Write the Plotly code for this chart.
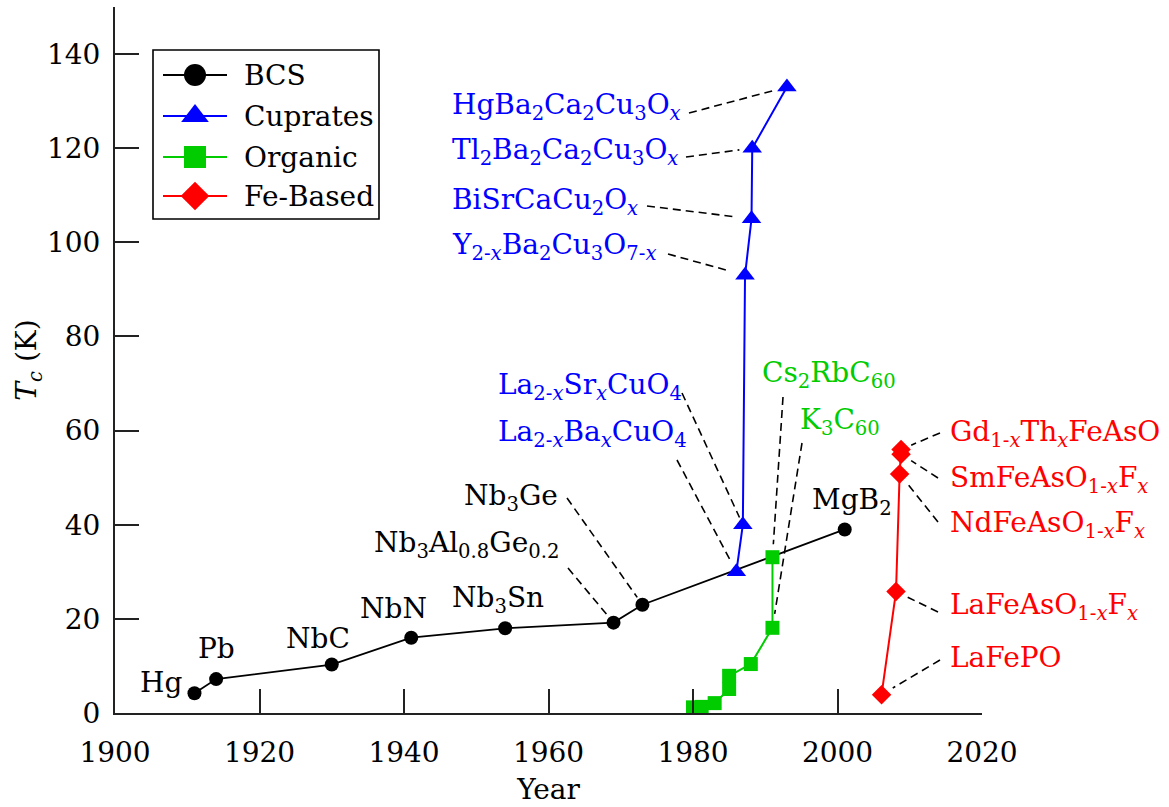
import plotly.graph_objects as go
import math

# ---------------- data ----------------
series_names = ["BCS", "Cuprates", "Organic", "Fe-Based"]

bcs_year = [1911, 1914, 1930, 1941, 1954, 1969, 1973, 2001]
bcs_tc = [4.2, 7.2, 10.3, 16.0, 18.0, 19.2, 23.0, 39.0]
bcs_names = ["Hg", "Pb", "NbC", "NbN", "Nb<sub>3</sub>Sn",
             "Nb<sub>3</sub>Al<sub>0.8</sub>Ge<sub>0.2</sub>",
             "Nb<sub>3</sub>Ge", "MgB<sub>2</sub>"]

cup_year = [1986, 1986.9, 1987.2, 1988.1, 1988.2, 1993]
cup_tc = [30, 40, 93, 105, 120, 133]
cup_names = ["La<sub>2-<i>x</i></sub>Ba<sub><i>x</i></sub>CuO<sub>4</sub>",
             "La<sub>2-<i>x</i></sub>Sr<sub><i>x</i></sub>CuO<sub>4</sub>",
             "Y<sub>2-<i>x</i></sub>Ba<sub>2</sub>Cu<sub>3</sub>O<sub>7-<i>x</i></sub>",
             "BiSrCaCu<sub>2</sub>O<sub><i>x</i></sub>",
             "Tl<sub>2</sub>Ba<sub>2</sub>Ca<sub>2</sub>Cu<sub>3</sub>O<sub><i>x</i></sub>",
             "HgBa<sub>2</sub>Ca<sub>2</sub>Cu<sub>3</sub>O<sub><i>x</i></sub>"]

org_year = [1980, 1981.2, 1983, 1985, 1985, 1988, 1991, 1991]
org_tc = [1.2, 1.3, 2.1, 5.1, 7.9, 10.4, 18.1, 33.1]
org_names = [None, None, None, None, None, None,
             "K<sub>3</sub>C<sub>60</sub>", "Cs<sub>2</sub>RbC<sub>60</sub>"]

fe_year = [2006.1, 2008.1, 2008.6, 2008.8, 2008.8]
fe_tc = [3.9, 25.8, 50.8, 55.0, 56.0]
fe_names = ["LaFePO",
            "LaFeAsO<sub>1-<i>x</i></sub>F<sub><i>x</i></sub>",
            "NdFeAsO<sub>1-<i>x</i></sub>F<sub><i>x</i></sub>",
            "SmFeAsO<sub>1-<i>x</i></sub>F<sub><i>x</i></sub>",
            "Gd<sub>1-<i>x</i></sub>Th<sub><i>x</i></sub>FeAsO"]

x_ticks = [1900, 1920, 1940, 1960, 1980, 2000, 2020]
y_ticks = [0, 20, 40, 60, 80, 100, 120, 140]

# ---------------- styling / layout ----------------
W, H = 1169, 807
PL, PR, PT, PB = 115, 982, 7, 713   # plot area in figure pixels
XR = (1900, 2020)
YR = (0, 150)
FONT = "DejaVu Serif"
FS = 28

colors = ["#000000", "#0000FF", "#00CC00", "#FF0000"]
symbols = ["circle", "triangle-up", "square", "diamond"]
msizes = [14, 17, 14, 15]
lwidths = [1.8, 2, 2, 2]
leg_msizes = [22, 24, 22, 22]

series = [(bcs_year, bcs_tc, bcs_names),
          (cup_year, cup_tc, cup_names),
          (org_year, org_tc, org_names),
          (fe_year, fe_tc, fe_names)]


def px2x(px):
    return XR[0] + (px - PL) * (XR[1] - XR[0]) / (PR - PL)


def px2y(py):
    return YR[0] + (PB - py) * (YR[1] - YR[0]) / (PB - PT)


def x2px(x):
    return PL + (x - XR[0]) * (PR - PL) / (XR[1] - XR[0])


def y2px(y):
    return PB - (y - YR[0]) * (PB - PT) / (YR[1] - YR[0])


# label placement: (series, index, text_px_x, text_px_y, xanchor, leader_start_px, gap_px)
label_pos = [
    (0, 0, 184, 682, "right", None, 0),
    (0, 1, 216, 648, "center", None, 0),
    (0, 2, 318, 638, "center", None, 0),
    (0, 3, 393, 608, "center", None, 0),
    (0, 4, 498, 599, "center", None, 0),
    (0, 5, 561, 544, "right", (568, 568), 10),
    (0, 6, 560, 497, "right", (567, 498), 9),
    (0, 7, 852, 501, "center", None, 0),
    (1, 0, 496, 433, "left", (677, 460), 11),
    (1, 1, 496, 386, "left", (682, 393), 8),
    (1, 2, 450, 246, "left", (668, 254), 19),
    (1, 3, 450, 201, "left", (647, 206), 15),
    (1, 4, 450, 151, "left", (686, 157), 13),
    (1, 5, 450, 106, "left", (689, 113), 12),
    (2, 6, 798, 421, "left", (802, 443), 14),
    (2, 7, 760, 374, "left", (783, 397), 13),
    (3, 0, 948, 657, "left", (940, 660), 13),
    (3, 1, 948, 606, "left", (938, 612), 13),
    (3, 2, 948, 524, "left", (938, 522), 12),
    (3, 3, 948, 479, "left", (938, 478), 12),
    (3, 4, 948, 433, "left", (940, 433), 11),
]

fig = go.Figure()

for k, (xs, ys, _) in enumerate(series):
    fig.add_trace(go.Scatter(
        x=xs, y=ys, mode="lines+markers", name=series_names[k],
        line=dict(color=colors[k], width=lwidths[k]),
        marker=dict(symbol=symbols[k], size=msizes[k], color=colors[k],
                    line=dict(width=0)),
        cliponaxis=False, showlegend=False, hoverinfo="skip"))

annotations = []
shapes = []
for (s, i, tx, ty, xa, lead, gap) in label_pos:
    xs, ys, names = series[s]
    annotations.append(dict(
        x=px2x(tx), y=px2y(ty), xref="x", yref="y", text=names[i],
        showarrow=False, xanchor=xa, yanchor="middle",
        font=dict(family=FONT, size=FS, color=colors[s])))
    if lead is not None:
        ppx, ppy = x2px(xs[i]), y2px(ys[i])
        dx, dy = lead[0] - ppx, lead[1] - ppy
        d = math.hypot(dx, dy)
        ex, ey = ppx + dx / d * gap, ppy + dy / d * gap
        shapes.append(dict(
            type="line", xref="x", yref="y",
            x0=px2x(lead[0]), y0=px2y(lead[1]), x1=px2x(ex), y1=px2y(ey),
            line=dict(color="black", width=1.6, dash="8px,5px")))

# ---------------- manual legend (overlay axes in figure pixels) ----------------
LEG_BOX = (153, 50, 379, 219)
LEG_ROWS = [75, 116, 157, 196]
shapes.append(dict(type="rect", xref="x2", yref="y2",
                   x0=LEG_BOX[0], x1=LEG_BOX[2], y0=LEG_BOX[1], y1=LEG_BOX[3],
                   line=dict(color="black", width=1.6), fillcolor="rgba(0,0,0,0)",
                   layer="below"))
for k, ry in enumerate(LEG_ROWS):
    fig.add_trace(go.Scatter(
        x=[163, 227], y=[ry, ry], xaxis="x2", yaxis="y2", mode="lines",
        line=dict(color=colors[k], width=lwidths[k]),
        showlegend=False, hoverinfo="skip", cliponaxis=False))
    fig.add_trace(go.Scatter(
        x=[195], y=[ry], xaxis="x2", yaxis="y2", mode="markers",
        marker=dict(symbol=symbols[k], size=leg_msizes[k], color=colors[k],
                    line=dict(width=0)),
        showlegend=False, hoverinfo="skip", cliponaxis=False))
    annotations.append(dict(
        x=242, y=ry, xref="x2", yref="y2", text=series_names[k],
        showarrow=False, xanchor="left", yanchor="middle",
        font=dict(family=FONT, size=FS, color="black")))

fig.update_layout(
    width=W, height=H,
    margin=dict(l=PL, r=W - PR, t=PT, b=H - PB, pad=0),
    paper_bgcolor="white", plot_bgcolor="white",
    font=dict(family=FONT, size=FS, color="black"),
    xaxis=dict(range=list(XR), tickvals=x_ticks, showgrid=False, zeroline=False,
               showline=True, linecolor="#222222", linewidth=2,
               ticks="inside", ticklen=24, tickwidth=1.5, tickcolor="#222222",
               ticklabelstandoff=13,
               title=dict(text="Year", font=dict(family=FONT, size=FS), standoff=12),
               tickfont=dict(family=FONT, size=FS, color="black")),
    yaxis=dict(range=list(YR), tickvals=y_ticks, showgrid=False, zeroline=False,
               showline=True, linecolor="#222222", linewidth=2,
               ticks="inside", ticklen=24, tickwidth=1.5, tickcolor="#222222",
               ticklabelstandoff=7,
               title=dict(text="<i>T<sub>c</sub></i> (K)", font=dict(family=FONT, size=FS), standoff=2),
               tickfont=dict(family=FONT, size=FS, color="black")),
    xaxis2=dict(domain=[0, 1], range=[PL, PR], anchor="y2", overlaying="x",
                visible=False, fixedrange=True),
    yaxis2=dict(domain=[0, 1], range=[PB, PT], anchor="x2", overlaying="y",
                visible=False, fixedrange=True),
    annotations=annotations,
    shapes=shapes,
    showlegend=False,
)

fig.write_html("out.html")
